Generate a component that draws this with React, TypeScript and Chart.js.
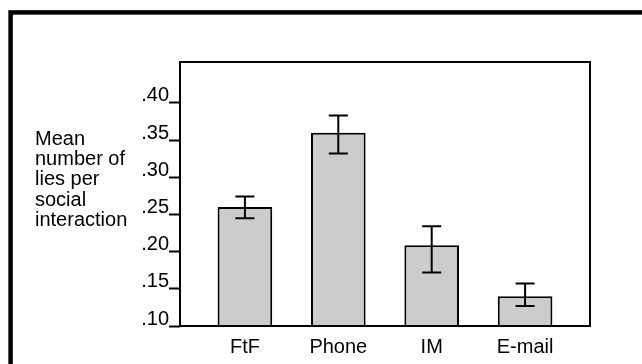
import React, { useEffect, useRef } from "react";
import { Chart, registerables } from "chart.js";

Chart.register(...registerables);

const categories = ["FtF", "Phone", "IM", "E-mail"];
const means = [0.26, 0.36, 0.2085, 0.14];
const errLow = [0.245, 0.332, 0.172, 0.127];
const errHigh = [0.274, 0.383, 0.234, 0.157];
const yTicks = [0.1, 0.15, 0.2, 0.25, 0.3, 0.35, 0.4];
const yTitleLines = ["Mean", "number of", "lies per", "social", "interaction"];

const FONT = "'Liberation Sans', Arial, sans-serif";
const FONT_SIZE = 20;

const framePlugin = {
  id: "frame",
  beforeDraw(chart: any) {
    const ctx = chart.ctx;
    ctx.save();
    ctx.fillStyle = "#ffffff";
    ctx.fillRect(0, 0, chart.width, chart.height);
    ctx.strokeStyle = "#000000";
    ctx.lineWidth = 4.5;
    ctx.strokeRect(10.6, 12.4, 1200, 1200);
    ctx.restore();
  },
  afterDatasetsDraw(chart: any) {
    const ctx = chart.ctx;
    const meta = chart.getDatasetMeta(0);
    const y = chart.scales.y;
    ctx.save();
    ctx.strokeStyle = "#000000";
    ctx.lineWidth = 2;
    meta.data.forEach((bar: any, i: number) => {
      const x = bar.x;
      const yl = y.getPixelForValue(errLow[i]);
      const yh = y.getPixelForValue(errHigh[i]);
      const cap = 9.5;
      ctx.beginPath();
      ctx.moveTo(x, yl);
      ctx.lineTo(x, yh);
      ctx.moveTo(x - cap, yl);
      ctx.lineTo(x + cap, yl);
      ctx.moveTo(x - cap, yh);
      ctx.lineTo(x + cap, yh);
      ctx.stroke();
    });
    const a = chart.chartArea;
    ctx.strokeRect(a.left, a.top, a.right - a.left, a.bottom - a.top);
    ctx.fillStyle = "#000000";
    ctx.font = `${FONT_SIZE}px ${FONT}`;
    ctx.textAlign = "left";
    ctx.textBaseline = "alphabetic";
    yTitleLines.forEach((line, i) => {
      ctx.fillText(line, 35, 145 + i * 20.2);
    });
    ctx.restore();
  },
};

export default function App() {
  const ref = useRef<HTMLCanvasElement | null>(null);
  useEffect(() => {
    if (!ref.current) return;
    const chart = new Chart(ref.current, {
      type: "bar",
      data: {
        datasets: [
          {
            data: means.map((v, i) => ({ x: i, y: v })),
            backgroundColor: "#cccccc",
            borderColor: "#000000",
            borderWidth: 2,
            barPercentage: 0.585,
            categoryPercentage: 1,
          },
        ],
      },
      options: {
        animation: false,
        responsive: false,
        events: [],
        layout: { padding: { left: 0, right: 52, top: 62, bottom: 0 } },
        plugins: { legend: { display: false }, tooltip: { enabled: false } },
        scales: {
          x: {
            type: "linear",
            offset: false,
            min: -0.695,
            max: 3.695,
            grid: { display: false, offset: false },
            border: { display: false },
            afterFit: (s: any) => {
              s.height = 38;
            },
            ticks: {
              stepSize: 1,
              includeBounds: false,
              autoSkip: false,
              maxRotation: 0,
              padding: 1,
              color: "#000000",
              font: { family: FONT, size: FONT_SIZE },
              callback: (v: any) =>
                Number.isInteger(v) && categories[v] !== undefined ? categories[v] : "",
            },
          },
          y: {
            min: 0.1,
            max: 0.455,
            grid: {
              display: true,
              drawOnChartArea: false,
              drawTicks: true,
              tickLength: 11,
              tickWidth: 2,
              tickColor: "#000000",
            },
            border: { display: false },
            afterFit: (s: any) => {
              s.width = 180;
            },
            afterBuildTicks: (s: any) => {
              s.ticks = yTicks.map((v) => ({ value: v }));
            },
            ticks: {
              padding: 0,
              labelOffset: -7,
              color: "#000000",
              font: { family: FONT, size: FONT_SIZE },
              callback: (v: any) => Number(v).toFixed(2).replace(/^0/, ""),
            },
          },
        },
      },
      plugins: [framePlugin],
    });
    return () => chart.destroy();
  }, []);
  return (
    <div style={{ position: "absolute", left: 0, top: 0, width: 642, height: 364, overflow: "hidden" }}>
      <canvas ref={ref} width={642} height={364} style={{ display: "block" }} />
    </div>
  );
}
